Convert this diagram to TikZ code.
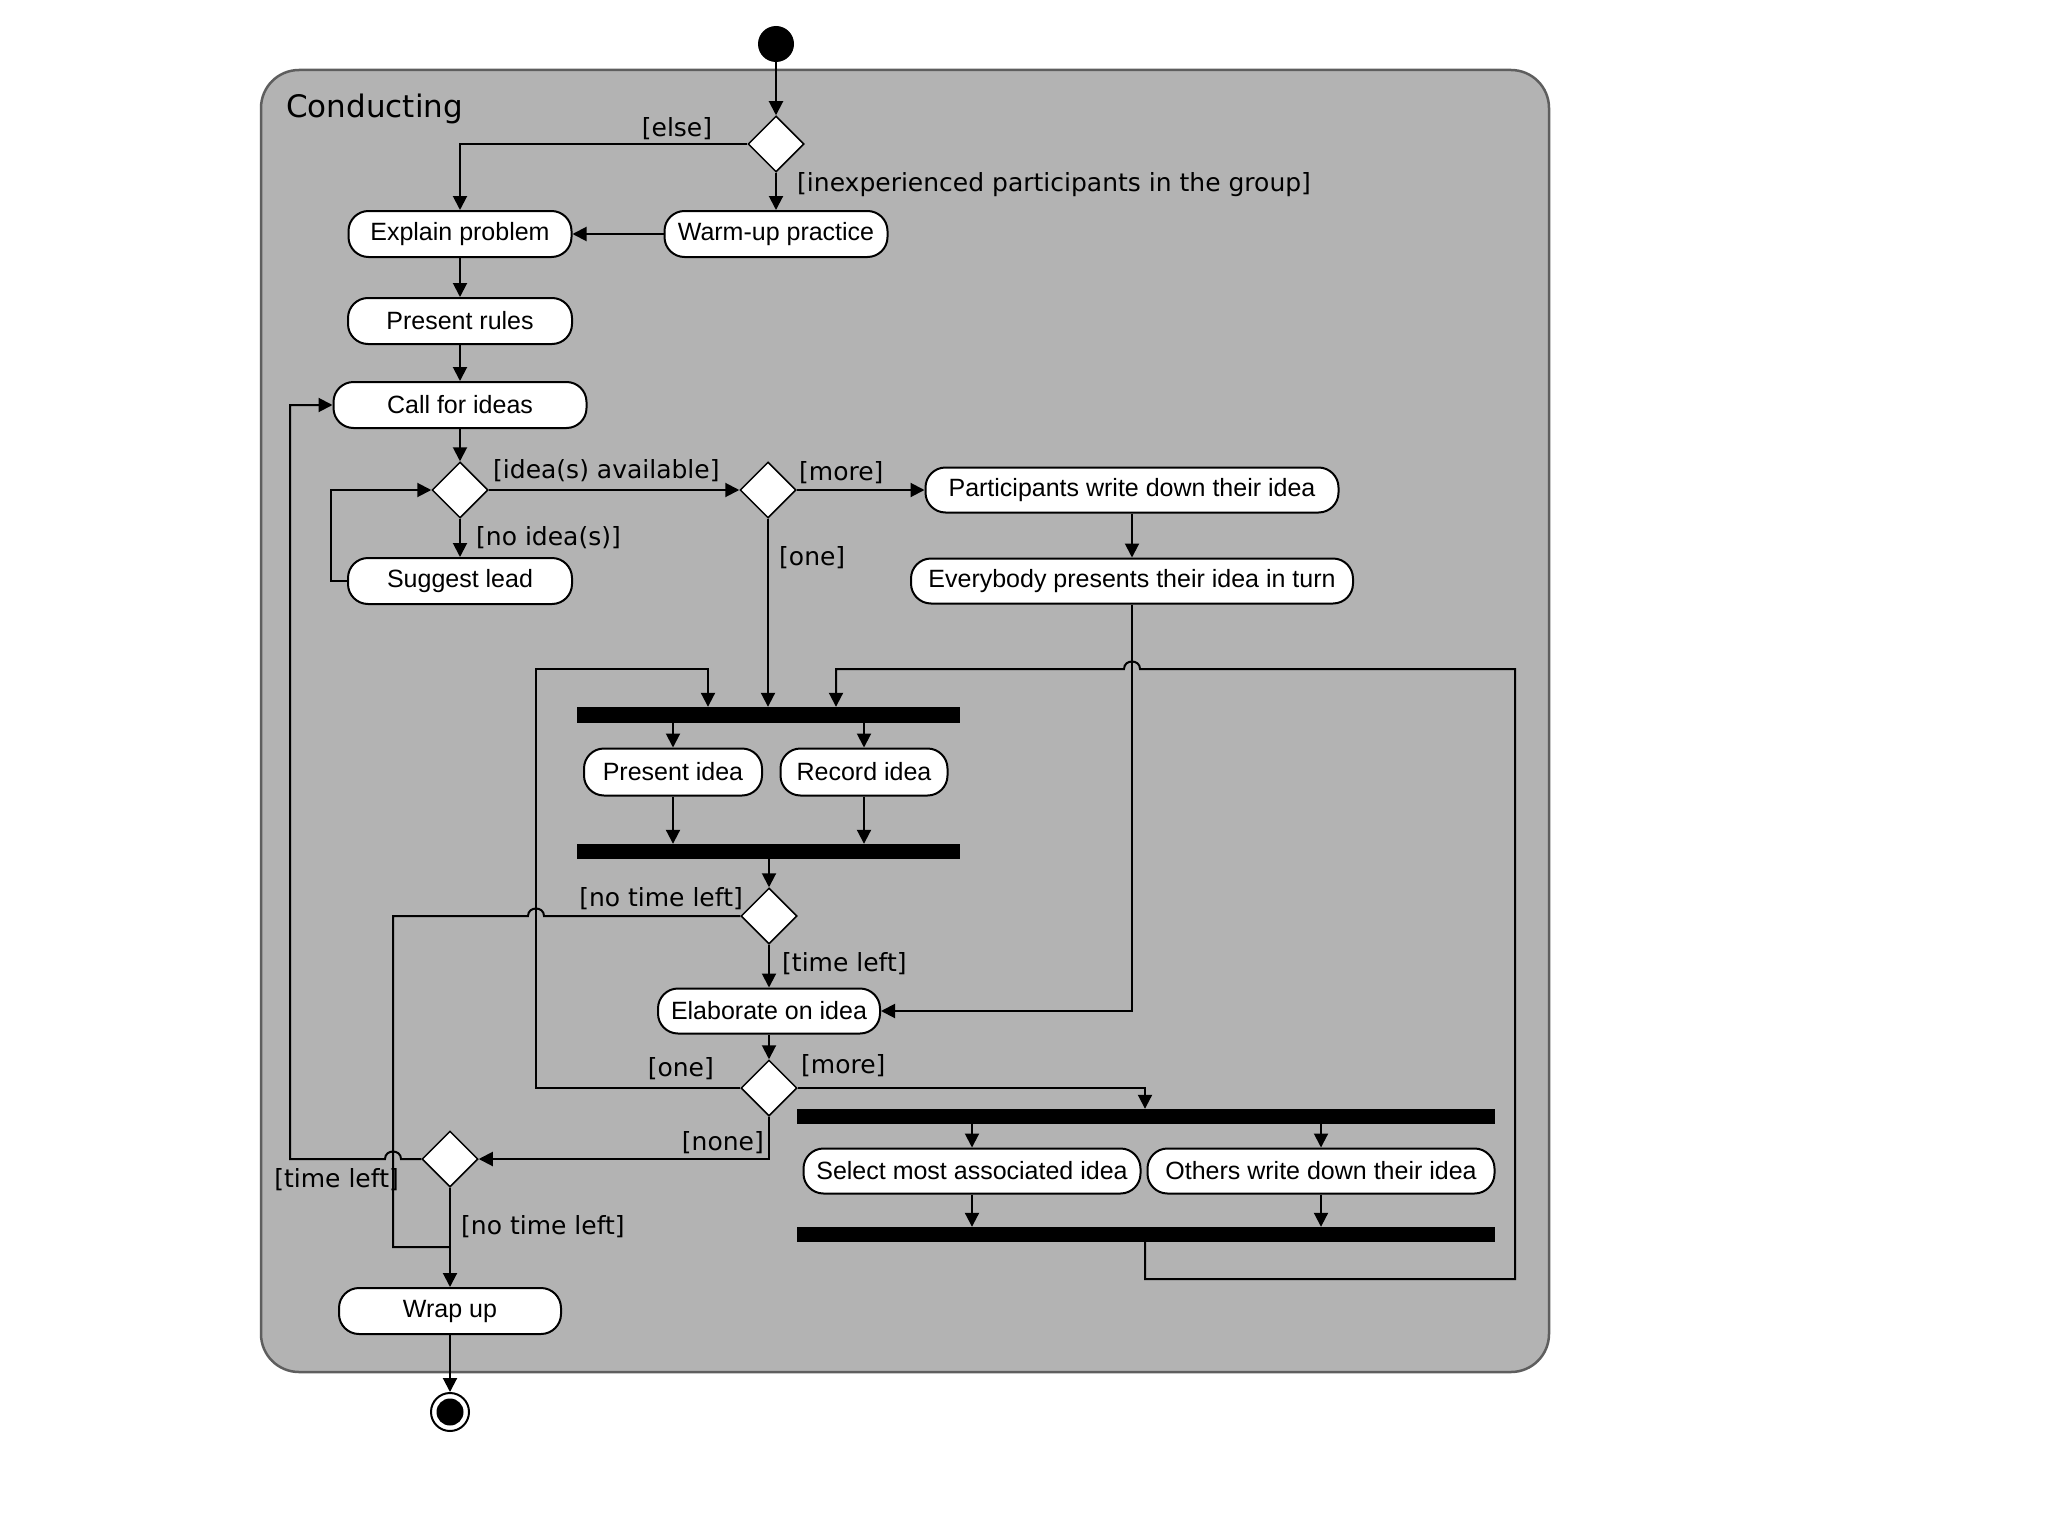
\documentclass[tikz,border=0pt]{standalone}
\usepackage{fontspec}
\usetikzlibrary{arrows.meta,shapes.geometric}
\newfontfamily\actfont{Liberation Sans}
\newfontfamily\grdfont{DejaVu Sans}
\definecolor{framegray}{HTML}{B3B3B3}
\definecolor{framedraw}{HTML}{5E5E5E}
\begin{document}
\begin{tikzpicture}[x=1pt,y=-1pt,
 act/.style={draw=black, line width=2pt, fill=white, rounded corners=20pt, minimum height=46pt, inner sep=0pt, font=\actfont\fontsize{25}{30}\selectfont},
 dec/.style={diamond, draw=black, line width=1.5pt, fill=white, minimum width=56pt, minimum height=56pt, inner sep=0pt},
 bar/.style={fill=black, inner sep=0pt, draw=none},
 conn/.style={draw=black, line width=2pt, -{Triangle[length=14pt,width=14pt]}},
 plain/.style={draw=black, line width=2pt},
 grd/.style={font=\grdfont\fontsize{25}{30}\selectfont, inner sep=0pt},
]
\useasboundingbox (0,0) rectangle (2048,1536);
\fill[white] (0,0) rectangle (2048,1536);
% frame
\draw[fill=framegray, draw=framedraw, line width=2.5pt, rounded corners=38pt] (261,70) rectangle (1549,1372);
\node[anchor=base west, inner sep=0pt, font=\grdfont\fontsize{31}{36}\selectfont] (title) at (286,118) {Conducting};

% nodes
\node[circle, fill=black, minimum size=36pt, inner sep=0pt] (init) at (776,44) {};
\node[dec] (d1) at (776,144) {};
\node[act, minimum width=223pt] (explain) at (460,234) {Explain problem};
\node[act, minimum width=223pt] (warm) at (776,234) {Warm-up practice};
\node[act, minimum width=224pt] (rules) at (460,321) {Present rules};
\node[act, minimum width=253pt] (call) at (460,405) {Call for ideas};
\node[dec] (d2) at (460,490) {};
\node[dec] (d3) at (768,490) {};
\node[act, minimum width=413pt, minimum height=45pt] (part) at (1132,490) {Participants write down their idea};
\node[act, minimum width=442pt, minimum height=45pt] (every) at (1132,581) {Everybody presents their idea in turn};
\node[act, minimum width=224pt] (sugg) at (460,581) {Suggest lead};
\node[bar, minimum width=383pt, minimum height=16pt] (b1) at (768.5,715) {};
\node[act, minimum width=178pt, minimum height=47pt] (present) at (673,772) {Present idea};
\node[act, minimum width=167pt, minimum height=47pt] (record) at (864,772) {Record idea};
\node[bar, minimum width=383pt, minimum height=15pt] (b2) at (768.5,851.5) {};
\node[dec] (d4) at (769,916) {};
\node[act, minimum width=222pt, minimum height=45pt] (elab) at (769,1011) {Elaborate on idea};
\node[dec] (d5) at (769,1088) {};
\node[bar, minimum width=698pt, minimum height=15pt] (b3) at (1146,1116.5) {};
\node[act, minimum width=337pt, minimum height=45pt] (select) at (972,1171) {Select most associated idea};
\node[act, minimum width=347pt, minimum height=45pt] (others) at (1321,1171) {Others write down their idea};
\node[bar, minimum width=698pt, minimum height=15pt] (b4) at (1146,1234.5) {};
\node[dec] (d6) at (450,1159) {};
\node[act, minimum width=222pt] (wrap) at (450,1311) {Wrap up};
\node[circle, draw=black, line width=2pt, fill=white, minimum size=38pt, inner sep=0pt] (fin) at (450,1412) {};
\node[circle, fill=black, minimum size=27pt, inner sep=0pt] (finc) at (fin.center) {};

% helper coordinates
\coordinate (mergeW) at (450,1247);
\coordinate (lx) at (708,700);
\coordinate (rx) at (836,700);
\coordinate (mx) at (1145,1100);

% connectors
\draw[conn] (init.south) -- (d1.north);
\draw[conn] (d1.west) -| (explain.north);
\draw[conn] (d1.south) -- (warm.north);
\draw[conn] (warm.west) -- (explain.east);
\draw[conn] (explain.south) -- (rules.north);
\draw[conn] (rules.south) -- (call.north);
\draw[conn] (call.south) -- (d2.north);
\draw[conn] (d2.east) -- (d3.west);
\draw[conn] (d3.east) -- (part.west);
\draw[conn] (part.south) -- (every.north);
\draw[conn] (d2.south) -- (sugg.north);
\draw[conn] (sugg.west) -- (331,581) |- (d2.west);
\draw[conn] (d3.south) -- (d3.south |- b1.north);
\draw[conn] (present.north |- b1.south) -- (present.north);
\draw[conn] (record.north |- b1.south) -- (record.north);
\draw[conn] (present.south) -- (present.south |- b2.north);
\draw[conn] (record.south) -- (record.south |- b2.north);
\draw[conn] (b2.south -| d4.north) -- (d4.north);
\draw[conn] (d4.south) -- (elab.north);
\draw[conn] (elab.south) -- (d5.north);
\draw[conn] (every.south) |- (elab.east);
% [one] loop back to fork
\draw[conn] (d5.west) -- (536,1088) -- (536,669) -- (708,669) -- (lx |- b1.north);
% right loop back to fork, with line jump
\draw[conn] (b4.south -| mx) -- (1145,1279) -- (1515,1279) -- (1515,669) -- (1140,669)
  .. controls (1140,659) and (1124,659) .. (1124,669) -- (836,669) -- (rx |- b1.north);
% [more] to fork 3
\draw[conn] (d5.east) -| (mx |- b3.north);
\draw[conn] (select.north |- b3.south) -- (select.north);
\draw[conn] (others.north |- b3.south) -- (others.north);
\draw[conn] (select.south) -- (select.south |- b4.north);
\draw[conn] (others.south) -- (others.south |- b4.north);
% [none]
\draw[conn] (d5.south) |- (d6.east);
% [no time left] from d4, with line jump
\draw[plain] (d4.west) -- (544,916) .. controls (544,906) and (528,906) .. (528,916) -- (393,916) -- (393,1247) -- (mergeW);
% [time left] from d6 back to call, with line jump
\draw[conn] (d6.west) -- (401,1159) .. controls (401,1149) and (385,1149) .. (385,1159) -- (290,1159) |- (call.west);
\draw[conn] (d6.south) -- (wrap.north);
\draw[conn] (wrap.south) -- (fin.north);

% guards
\node[grd] (g1) at (677,129) {[else]};
\node[grd, anchor=west] (g2) at (797,185) {[inexperienced participants in the group]};
\node[grd, anchor=west] (g3) at (493,471) {[idea(s) available]};
\node[grd, anchor=west] (g4) at (799,473) {[more]};
\node[grd, anchor=west] (g5) at (476,538) {[no idea(s)]};
\node[grd, anchor=west] (g6) at (779,558) {[one]};
\node[grd, anchor=east] (g7) at (743,899) {[no time left]};
\node[grd, anchor=west] (g8) at (782,964) {[time left]};
\node[grd, anchor=east] (g9) at (714,1069) {[one]};
\node[grd, anchor=west] (g10) at (801,1066) {[more]};
\node[grd, anchor=east] (g11) at (764,1143) {[none]};
\node[grd, anchor=east] (g12) at (399,1180) {[time left]};
\node[grd, anchor=west] (g13) at (461,1227) {[no time left]};
\end{tikzpicture}
\end{document}
